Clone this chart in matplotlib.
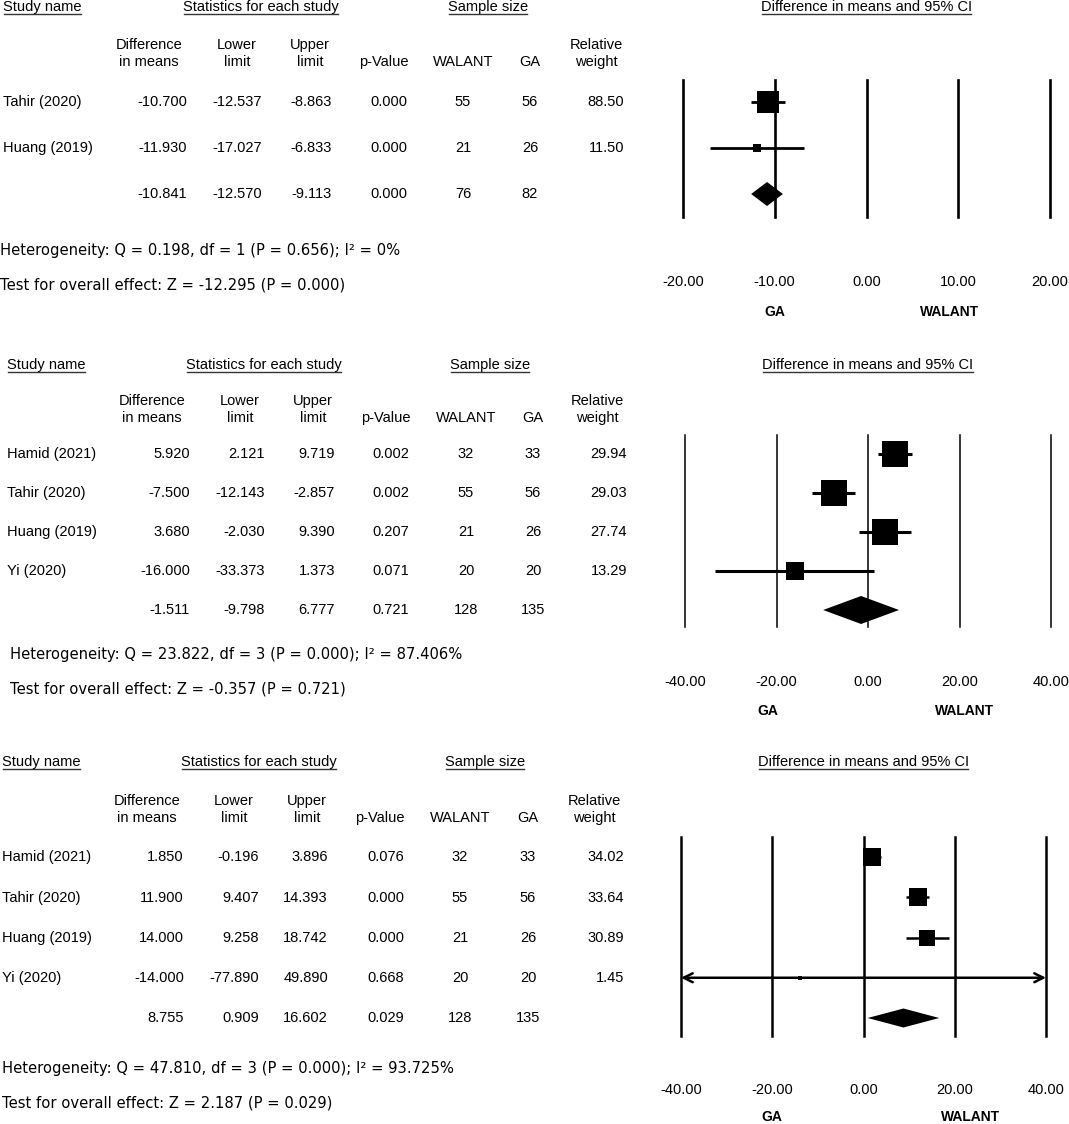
import numpy as np
import matplotlib
matplotlib.use('Agg')
import matplotlib.pyplot as plt
from matplotlib.lines import Line2D
from matplotlib.transforms import blended_transform_factory

W, H, DPI = 1069, 1124, 100
plt.rcParams['font.family'] = ['Liberation Sans', 'DejaVu Sans']
FS = 10.5

# ---------------- data ----------------
# panel 1
p1_names = ['Tahir (2020)', 'Huang (2019)']
p1_diff = [-10.700, -11.930]
p1_lower = [-12.537, -17.027]
p1_upper = [-8.863, -6.833]
p1_pval = [0.000, 0.000]
p1_walant = [55, 21]
p1_ga = [56, 26]
p1_weight = [88.50, 11.50]
p1_summary = [-10.841, -12.570, -9.113, 0.000]
p1_totals = [76, 82]
p1_het = 'Heterogeneity: Q = 0.198, df = 1 (P = 0.656); I² = 0%'
p1_test = 'Test for overall effect: Z = -12.295 (P = 0.000)'
p1_ticks = [-20, -10, 0, 10, 20]

# panel 2
p2_names = ['Hamid (2021)', 'Tahir (2020)', 'Huang (2019)', 'Yi (2020)']
p2_diff = [5.920, -7.500, 3.680, -16.000]
p2_lower = [2.121, -12.143, -2.030, -33.373]
p2_upper = [9.719, -2.857, 9.390, 1.373]
p2_pval = [0.002, 0.002, 0.207, 0.071]
p2_walant = [32, 55, 21, 20]
p2_ga = [33, 56, 26, 20]
p2_weight = [29.94, 29.03, 27.74, 13.29]
p2_summary = [-1.511, -9.798, 6.777, 0.721]
p2_totals = [128, 135]
p2_het = 'Heterogeneity: Q = 23.822, df = 3 (P = 0.000); I² = 87.406%'
p2_test = 'Test for overall effect: Z = -0.357 (P = 0.721)'
p2_ticks = [-40, -20, 0, 20, 40]

# panel 3
p3_names = ['Hamid (2021)', 'Tahir (2020)', 'Huang (2019)', 'Yi (2020)']
p3_diff = [1.850, 11.900, 14.000, -14.000]
p3_lower = [-0.196, 9.407, 9.258, -77.890]
p3_upper = [3.896, 14.393, 18.742, 49.890]
p3_pval = [0.076, 0.000, 0.000, 0.668]
p3_walant = [32, 55, 21, 20]
p3_ga = [33, 56, 26, 20]
p3_weight = [34.02, 33.64, 30.89, 1.45]
p3_summary = [8.755, 0.909, 16.602, 0.029]
p3_totals = [128, 135]
p3_het = 'Heterogeneity: Q = 47.810, df = 3 (P = 0.000); I² = 93.725%'
p3_test = 'Test for overall effect: Z = 2.187 (P = 0.029)'
p3_ticks = [-40, -20, 0, 20, 40]

# ---------------- layout (pixels) ----------------
lay1 = dict(top=7, hdr=(45, 62), rows=[102, 148, 194], het=250, test=285, het_x=0,
            name_x=3, stat_c=261, samp_c=488,
            hdr_c=[149, 237, 310, 384, 463, 530, 596],
            col_r=[187, 262, 332, 407], n_c=[463, 530], w_r=624,
            ax=(683, 80, 1050, 217), tick_y=283, lab_y=312, lab_x=(-10, 9),
            sq_k=2.34, dia_h=12, lw_grid=1.9, lw_ci=2.0)
lay2 = dict(top=365, hdr=(401, 418), rows=[454, 493, 532, 571, 610], het=654, test=689, het_x=10,
            name_x=7, stat_c=264, samp_c=490,
            hdr_c=[152, 240, 313, 386, 466, 533, 597],
            col_r=[190, 265, 335, 409], n_c=[466, 533], w_r=627,
            ax=(685, 435, 1051, 627), tick_y=683, lab_y=711, lab_x=(-22, 21),
            sq_k=4.93, dia_h=14, lw_grid=1.1, lw_ci=2.2)
lay3 = dict(top=762, hdr=(801, 818), rows=[857, 898, 938, 978, 1018], het=1068, test=1103, het_x=2,
            name_x=2, stat_c=259, samp_c=485,
            hdr_c=[147, 234, 307, 380, 460, 528, 594],
            col_r=[184, 259, 328, 404], n_c=[460, 528], w_r=624,
            ax=(681, 837, 1046, 1036), tick_y=1092, lab_y=1117, lab_x=(-20, 23.5),
            sq_k=3.0, dia_h=9.5, lw_grid=1.8, lw_ci=1.8)

fig = plt.figure(figsize=(W / DPI, H / DPI), dpi=DPI)
underlined = []


def fx(x):
    return x / W


def fy(y):
    return 1 - y / H


def txt(x, y, s, ha='left', **kw):
    kw.setdefault('fontsize', FS)
    return fig.text(fx(x), fy(y), s, ha=ha, va='center', **kw)


def panel(names, diff, lower, upper, pval, walant, ga, weight, summary, totals,
          het, test, ticks, L):
    # headers
    underlined.append(txt(L['name_x'], L['top'], 'Study name'))
    underlined.append(txt(L['stat_c'], L['top'], 'Statistics for each study', ha='center'))
    underlined.append(txt(L['samp_c'], L['top'], 'Sample size', ha='center'))
    hdr_top = ['Difference', 'Lower', 'Upper', '', '', '', 'Relative']
    hdr_bot = ['in means', 'limit', 'limit', 'p-Value', 'WALANT', 'GA', 'weight']
    for c, a, b in zip(L['hdr_c'], hdr_top, hdr_bot):
        if a:
            txt(c, L['hdr'][0], a, ha='center')
        txt(c, L['hdr'][1], b, ha='center')

    # rows of the table
    for i, nm in enumerate(names):
        y = L['rows'][i]
        txt(L['name_x'], y, nm)
        for xr, v in zip(L['col_r'], [diff[i], lower[i], upper[i], pval[i]]):
            txt(xr, y, f'{v:.3f}', ha='right')
        txt(L['n_c'][0], y, str(walant[i]), ha='center')
        txt(L['n_c'][1], y, str(ga[i]), ha='center')
        txt(L['w_r'], y, f'{weight[i]:.2f}', ha='right')
    ys = L['rows'][-1]
    for xr, v in zip(L['col_r'], summary):
        txt(xr, ys, f'{v:.3f}', ha='right')
    txt(L['n_c'][0], ys, str(totals[0]), ha='center')
    txt(L['n_c'][1], ys, str(totals[1]), ha='center')

    txt(L['het_x'], L['het'], het, family='DejaVu Sans', fontsize=10.6)
    txt(L['het_x'], L['test'], test, family='DejaVu Sans', fontsize=10.6)

    # forest plot
    x0, y0, x1, y1 = L['ax']
    ax = fig.add_axes([fx(x0), fy(y1), (x1 - x0) / W, (y1 - y0) / H])
    rows = L['rows']
    n = len(rows)
    sp = (rows[-1] - rows[0]) / (n - 1)
    ax.set_ylim(n - 1 + (y1 - rows[-1]) / sp, -(rows[0] - y0) / sp)
    ax.set_xlim(ticks[0], ticks[-1])
    for s in ax.spines.values():
        s.set_visible(False)
    ax.set_yticks([])
    ax.set_xticks(ticks)
    ax.set_xticklabels([f'{t:.2f}' for t in ticks], fontsize=FS)
    pad = (L['tick_y'] - y1 - 8.5) * 72 / DPI
    ax.tick_params(axis='x', length=0, pad=pad)
    ax.grid(axis='x', color='black', lw=L['lw_grid'])
    for gl in ax.get_xgridlines():
        gl.set_clip_on(False)
    ax.set_axisbelow(True)

    lo_lim, hi_lim = ticks[0], ticks[-1]
    for i in range(len(names)):
        lo, hi = lower[i], upper[i]
        if lo < lo_lim or hi > hi_lim:
            ax.annotate('', xy=(max(lo, lo_lim), i), xytext=(min(hi, hi_lim), i),
                        arrowprops=dict(arrowstyle='<->', lw=L['lw_ci'], color='black',
                                        mutation_scale=16, shrinkA=0, shrinkB=0),
                        annotation_clip=False)
        else:
            ax.plot([lo, hi], [i, i], color='black', lw=L['lw_ci'], solid_capstyle='butt')
        side = L['sq_k'] * np.sqrt(weight[i]) * 72 / DPI
        ax.plot(diff[i], i, marker='s', ms=side, color='black', mew=0)

    est, lo, hi = summary[0], summary[1], summary[2]
    hh = L['dia_h'] / sp
    k = n - 1
    ax.fill([lo, est, hi, est], [k, k - hh, k, k + hh], color='black', lw=0)

    tr = blended_transform_factory(ax.transData, fig.transFigure)
    underlined.append(ax.text(0, fy(L['top']), 'Difference in means and 95% CI',
                              transform=tr, ha='center', va='center', fontsize=FS))
    ax.text(L['lab_x'][0], fy(L['lab_y']), 'GA', transform=tr, ha='center', va='center',
            fontsize=10, fontweight='bold')
    ax.text(L['lab_x'][1], fy(L['lab_y']), 'WALANT', transform=tr, ha='center', va='center',
            fontsize=10, fontweight='bold')


panel(p1_names, p1_diff, p1_lower, p1_upper, p1_pval, p1_walant, p1_ga, p1_weight,
      p1_summary, p1_totals, p1_het, p1_test, p1_ticks, lay1)
panel(p2_names, p2_diff, p2_lower, p2_upper, p2_pval, p2_walant, p2_ga, p2_weight,
      p2_summary, p2_totals, p2_het, p2_test, p2_ticks, lay2)
panel(p3_names, p3_diff, p3_lower, p3_upper, p3_pval, p3_walant, p3_ga, p3_weight,
      p3_summary, p3_totals, p3_het, p3_test, p3_ticks, lay3)

# underline the header texts
fig.canvas.draw()
rend = fig.canvas.get_renderer()
inv = fig.transFigure.inverted()
for t in underlined:
    bb = t.get_window_extent(rend)
    (a, b) = inv.transform((bb.x0 + 1, bb.y0 + 0.5))
    (c, d) = inv.transform((bb.x1 - 1, bb.y0 + 0.5))
    fig.add_artist(Line2D([a, c], [b, d], transform=fig.transFigure, color='#333333', lw=1.0))

fig.savefig('out.png', dpi=DPI)
